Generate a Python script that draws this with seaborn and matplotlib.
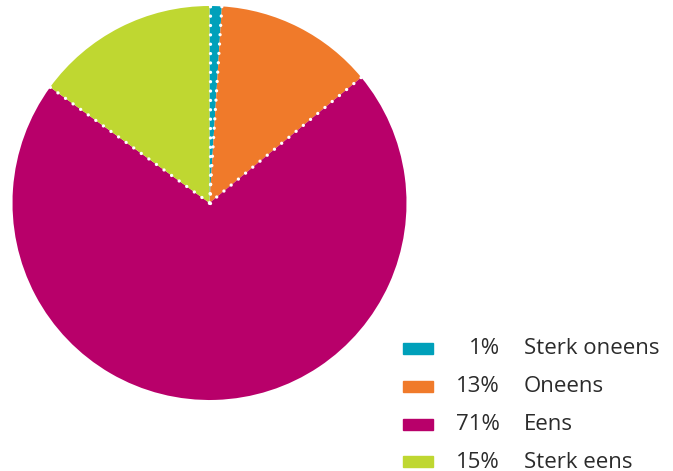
import numpy as np
import matplotlib
matplotlib.use("Agg")
import matplotlib.pyplot as plt
import seaborn as sns
from matplotlib.patches import Rectangle

categories = ["Sterk oneens", "Oneens", "Eens", "Sterk eens"]
values = [1, 13, 71, 15]
pct_labels = ["1%", "13%", "71%", "15%"]
colors = ["#00A0BA", "#F07A2A", "#B8006A", "#BFD731"]

sns.set_theme(style="white")
plt.rcParams["font.family"] = ["Open Sans", "DejaVu Sans"]

W, H = 673, 471
fig = plt.figure(figsize=(W / 100, H / 100), dpi=100)
cx, cy, r = 209.5, 203, 197
ax = fig.add_axes([(cx - r) / W, (H - cy - r) / H, 2 * r / W, 2 * r / H])

wedges, _ = ax.pie(values, colors=colors, startangle=90, counterclock=False,
                   radius=1, wedgeprops=dict(linewidth=0))
# dotted white boundaries along radii
total = sum(values)
ang = 90.0
for v in values:
    t = np.deg2rad(ang)
    ax.plot([0, np.cos(t)], [0, np.sin(t)], color="white", lw=2.4,
            linestyle=(0, (0.01, 2.8)), dash_capstyle="round", zorder=5)
    ang -= 360.0 * v / total
ax.set_xlim(-1, 1)
ax.set_ylim(-1, 1)
ax.set_aspect("equal")
ax.axis("off")

row_centers = [348.5, 386, 424, 461.5]
for i, (cat, pl, col) in enumerate(zip(categories, pct_labels, colors)):
    yc = row_centers[i]
    fig.patches.append(Rectangle((403 / W, (H - yc - 5.5) / H), 30 / W, 11 / H,
                                 transform=fig.transFigure, color=col))
    base = (H - yc - 6) / H
    fig.text(500 / W, base, pl, ha="right", va="baseline", fontsize=16, color="#2b2b2b")
    fig.text(524 / W, base, cat, ha="left", va="baseline", fontsize=16, color="#2b2b2b")

fig.savefig("out.png", dpi=100, facecolor="white")
